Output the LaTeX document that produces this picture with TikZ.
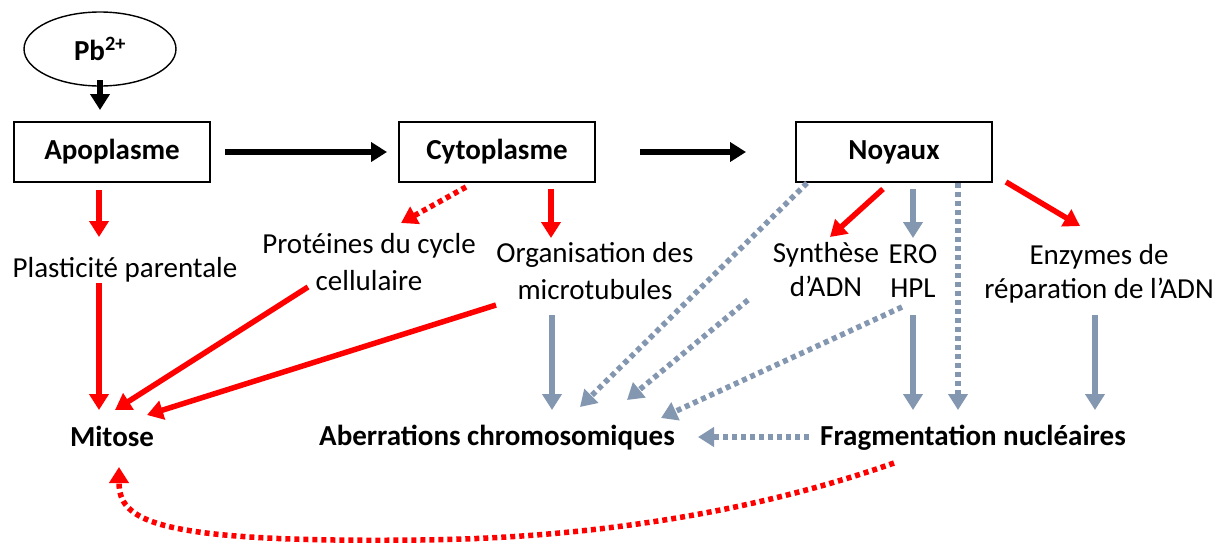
\documentclass[tikz,border=0pt]{standalone}
\usepackage{fontspec}
\setmainfont{Carlito}
\usetikzlibrary{arrows.meta,shapes.geometric,calc}
\definecolor{gcol}{RGB}{132,151,176}
\definecolor{rcol}{RGB}{255,0,0}
\begin{document}
\begin{tikzpicture}[x=1pt,y=-1pt,
  every node/.style={font=\fontsize{29}{37}\selectfont, inner sep=0pt},
  box/.style={draw, line width=1.4pt, minimum width=196pt, minimum height=60pt, text height=20pt, text depth=6pt, font=\fontsize{29}{37}\selectfont\bfseries},
  lbl/.style={align=center, anchor=base},
  lbls/.style={align=center, anchor=base, font=\fontsize{29}{34}\selectfont},
  blbl/.style={anchor=base, font=\fontsize{29}{37}\selectfont\bfseries},
  arr/.style={line width=5.5pt, -{Triangle[length=16pt,width=19pt]}},
  blk/.style={arr, black},
  redarr/.style={arr, rcol},
  grayarr/.style={arr, gcol},
  dots/.style={dash pattern=on 5pt off 4pt}
]
\useasboundingbox (0,0) rectangle (1216,542);
\fill[white] (0,0) rectangle (1216,542);

% nodes
\node[ellipse, draw, line width=1.4pt, minimum width=152pt, minimum height=74pt] (pb) at (100,49) {};
\node[anchor=base, font=\fontsize{29}{37}\selectfont\bfseries] (pbt) at (100,60) {Pb\textsuperscript{2+}};
\node[box] (apo) at (112,152) {Apoplasme};
\node[box] (cyto) at (497,152) {Cytoplasme};
\node[box] (noy) at (894,152) {Noyaux};

\node[lbl] (plast) at (125,277) {Plasticité parentale};
\node[lbl] (prot) at (369,290) {Protéines du cycle\\cellulaire};
\node[lbl] (org) at (595,299) {Organisation des\\microtubules};
\node[lbls] (synth) at (826,296) {Synthèse\\d’ADN};
\node[lbls] (ero) at (913,297) {ERO\\HPL};
\node[lbls] (enz) at (1099,298) {Enzymes de\\réparation de l’ADN};

\node[blbl] (mit) at (112,446) {Mitose};
\node[blbl] (aber) at (497,445) {Aberrations chromosomiques};
\node[blbl] (frag) at (973,445) {Fragmentation nucléaires};

% coordinates for free ends
\coordinate (pbS) at (100,80);
\coordinate (apoT) at (100,110);
\coordinate (apoE) at (225,152);
\coordinate (cytoW) at (387,152);
\coordinate (cytoE) at (640,152);
\coordinate (noyW) at (746,152);

\coordinate (apoS) at (99,190);
\coordinate (plastT) at (99,237);
\coordinate (plastS) at (99,283);
\coordinate (mitN) at (99,410);
\coordinate (protS) at (308,287);
\coordinate (mitNE) at (115,410);
\coordinate (orgS) at (496,305);
\coordinate (mitE) at (147,415);
\coordinate (mitB) at (119,467);
\coordinate (fragSW) at (894,463);

\coordinate (cytoSW) at (466,187);
\coordinate (protNE) at (401,223);
\coordinate (cytoS) at (551,189);
\coordinate (orgN) at (551,238);

\coordinate (noyS1) at (883,189);
\coordinate (synthN) at (830,237);
\coordinate (noyS2) at (913,189);
\coordinate (eroN) at (913,238);
\coordinate (noySE) at (1006,182);
\coordinate (enzN) at (1080,226);
\coordinate (noySW) at (807,183);
\coordinate (aberN1) at (580,407);
\coordinate (synthS) at (748,300);
\coordinate (aberN2) at (627,400);
\coordinate (eroS) at (902,307);
\coordinate (aberN3) at (661,418);
\coordinate (noyS3) at (958,183);
\coordinate (fragN1) at (958,410);
\coordinate (eroS2) at (913,315);
\coordinate (fragN2) at (913,410);
\coordinate (enzS) at (1095,315);
\coordinate (fragN3) at (1095,410);
\coordinate (orgS2) at (552,315);
\coordinate (aberN) at (552,410);
\coordinate (fragW) at (809,437);
\coordinate (aberE) at (698,437);

% black
\draw[blk] (pbS) -- (apoT);
\draw[blk] (apoE) -- (cytoW);
\draw[blk] (cytoE) -- (noyW);

% red
\draw[redarr] (apoS) -- (plastT);
\draw[redarr] (plastS) -- (mitN);
\draw[redarr] (protS) -- (mitNE);
\draw[redarr] (orgS) -- (mitE);
\draw[redarr, dots] (cytoSW) -- (protNE);
\draw[redarr] (cytoS) -- (orgN);
\draw[redarr] (noyS1) -- (synthN);
\draw[redarr] (noySE) -- (enzN);
\draw[redarr, dots] (fragSW) .. controls (760,510) and (600,538) .. (420,540)
   .. controls (150,543) and (119,520) .. (mitB);

% gray
\draw[grayarr] (noyS2) -- (eroN);
\draw[grayarr] (eroS2) -- (fragN2);
\draw[grayarr] (enzS) -- (fragN3);
\draw[grayarr] (orgS2) -- (aberN);
\draw[grayarr, dots] (noySW) -- (aberN1);
\draw[grayarr, dots] (synthS) -- (aberN2);
\draw[grayarr, dots] (eroS) -- (aberN3);
\draw[grayarr, dots] (noyS3) -- (fragN1);
\draw[grayarr, dots] (fragW) -- (aberE);
\end{tikzpicture}
\end{document}
